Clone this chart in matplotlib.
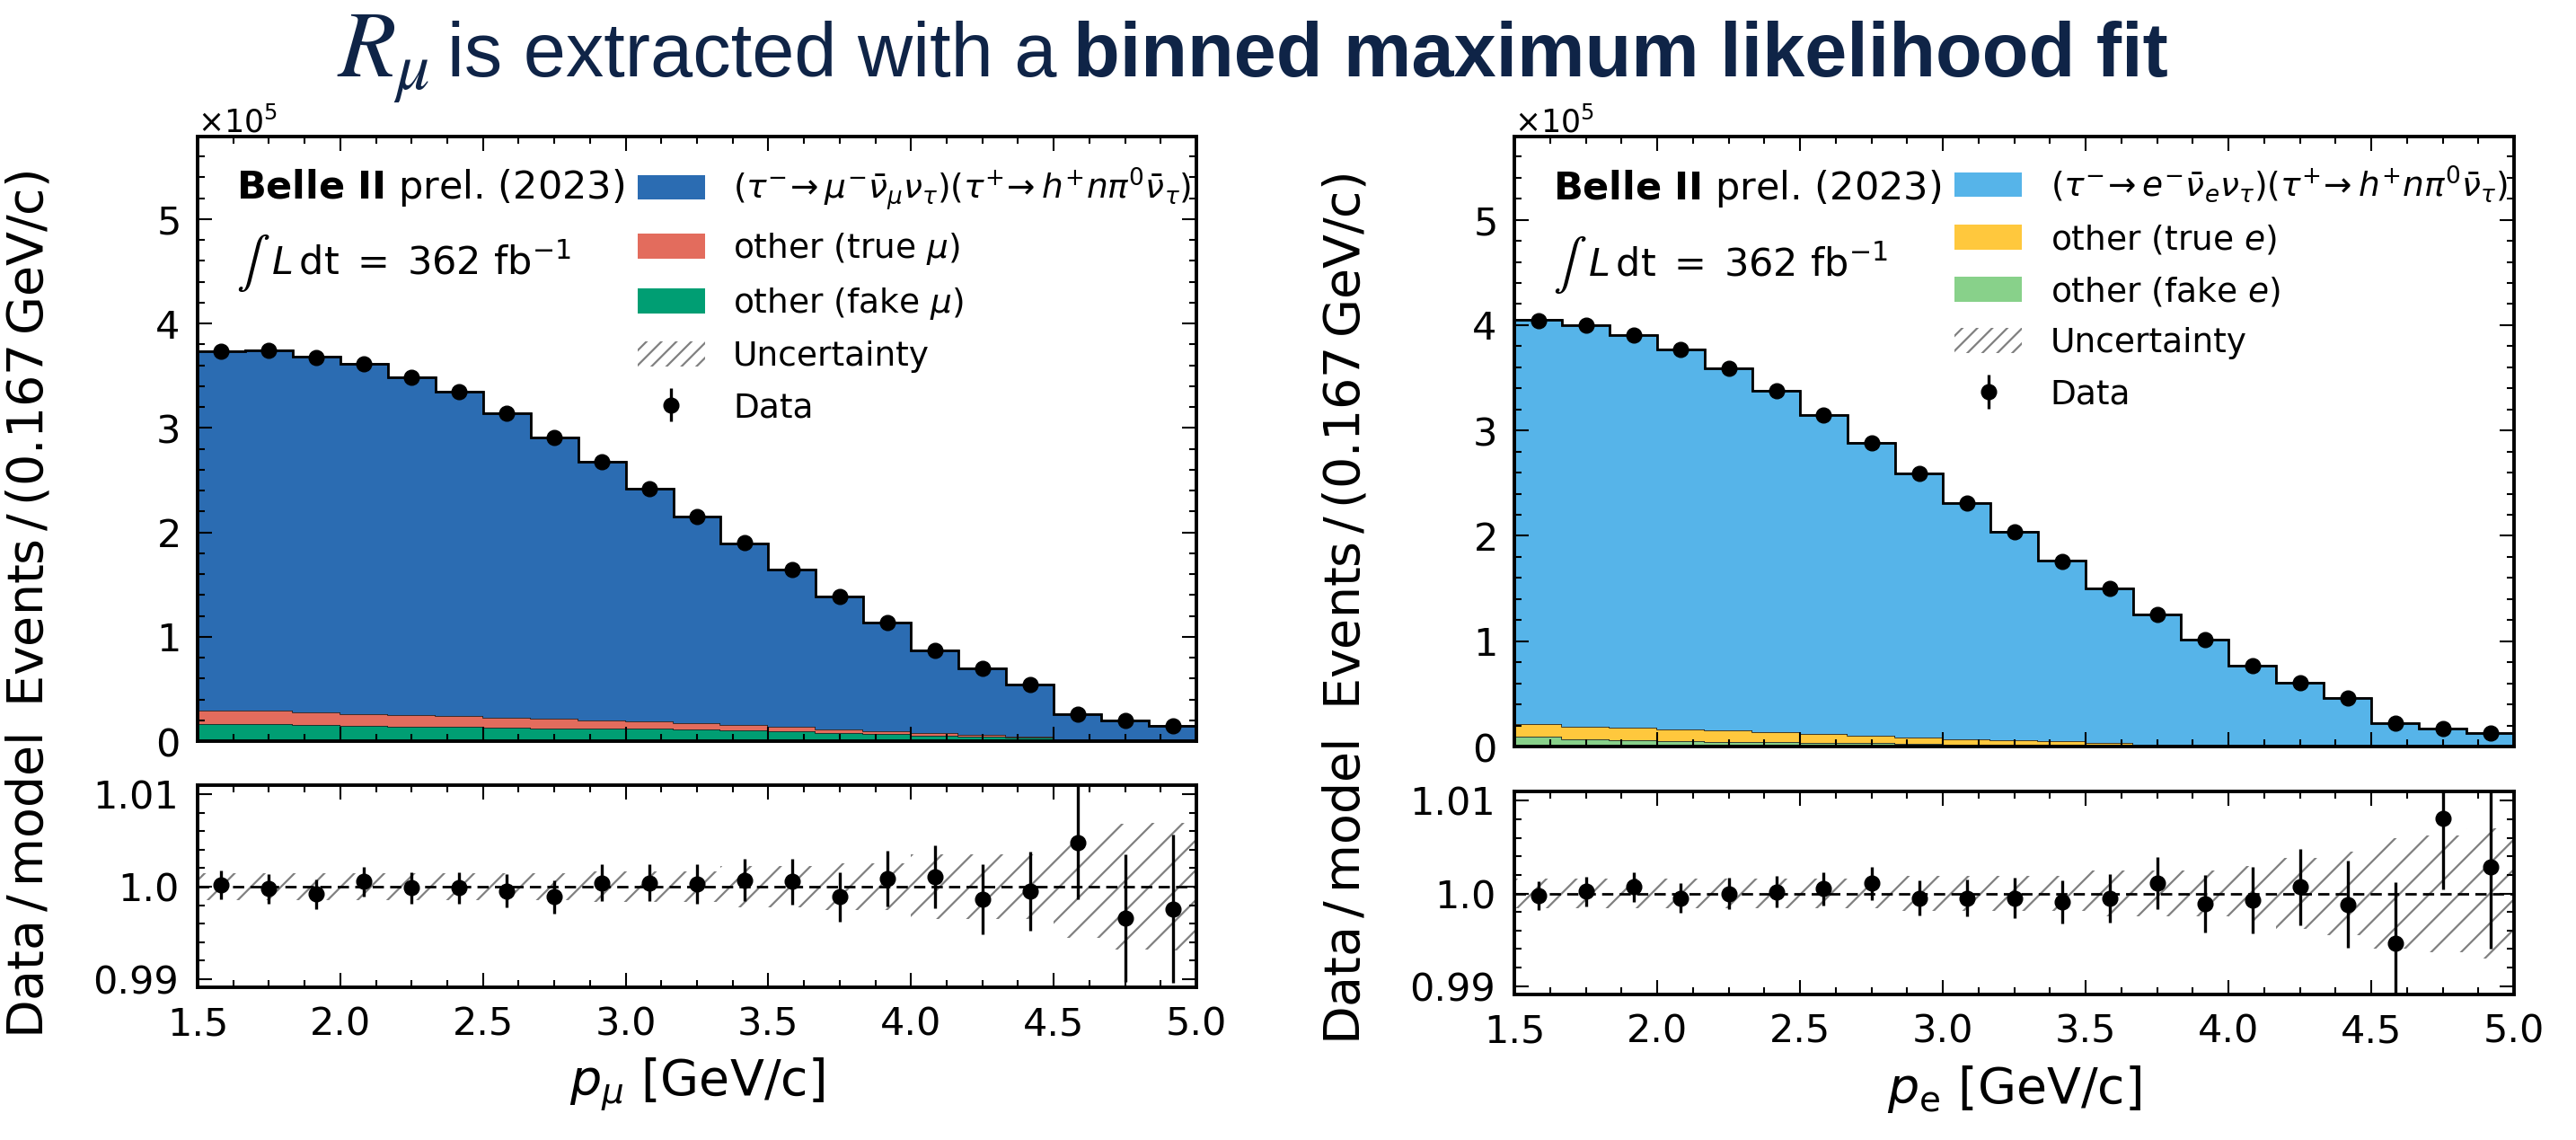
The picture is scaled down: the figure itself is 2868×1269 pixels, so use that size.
import numpy as np
import matplotlib
matplotlib.use("Agg")
import matplotlib.pyplot as plt
from matplotlib.ticker import MultipleLocator, AutoMinorLocator, ScalarFormatter, FixedLocator, FixedFormatter
from matplotlib.patches import Patch

# binning: 21 bins of 0.167 GeV/c between 1.5 and 5.0
edges = np.linspace(1.5, 5.0, 22)

# muon channel (events per bin)
mu_signal = [343900, 345400, 340300, 334900, 323600, 310900, 291500, 269700, 247200, 222500, 198000,
             173900, 150200, 126800, 104100, 79300, 63600, 49900, 25300, 19700, 14600]
mu_true = [13000, 12700, 12500, 11800, 11000, 10500, 9700, 8900, 8000, 7200, 6200,
           5400, 4500, 3600, 2800, 2100, 1500, 900, 300, 200, 200]
mu_fake = [16600, 16200, 15200, 14300, 13900, 13600, 12800, 12400, 12000, 11800, 10800,
           10400, 9300, 7900, 6700, 5400, 4500, 3400, 300, 300, 200]
mu_ratio = [1.0002, 0.9998, 0.9992, 1.00055, 0.9999, 0.9999, 0.99955, 0.9989, 1.0004, 1.0004, 1.0003,
            1.0007, 1.00055, 0.9989, 1.0009, 1.0011, 0.9986, 0.9995, 1.0048, 0.9966, 0.9976]
mu_ratio_err = [0.0016, 0.0016, 0.0016, 0.0016, 0.0017, 0.0017, 0.0018, 0.0018, 0.0020, 0.0020, 0.0021,
                0.0023, 0.0025, 0.0027, 0.0030, 0.0034, 0.0038, 0.0043, 0.0062, 0.0069, 0.0080]
mu_band = [0.0015, 0.0015, 0.0015, 0.0015, 0.0015, 0.0015, 0.0015, 0.0015, 0.0017, 0.0017, 0.0017,
           0.0022, 0.0022, 0.0025, 0.0025, 0.0035, 0.0035, 0.0035, 0.0055, 0.0068, 0.0069]

# electron channel (events per bin)
e_signal = [383500, 381000, 372600, 360400, 343800, 324100, 302900, 277800, 250700, 224000, 197500,
            171100, 146800, 123100, 100100, 75500, 59900, 45400, 22100, 17100, 12300]
e_true = [11800, 12500, 12000, 11500, 10500, 9500, 8500, 7000, 6000, 5000, 4200,
          3500, 2000, 1200, 900, 600, 200, 300, 200, 100, 100]
e_fake = [9400, 6500, 6000, 5000, 4500, 4000, 3500, 3000, 2500, 2000, 1800,
          1500, 1000, 800, 600, 400, 300, 200, 100, 100, 100]
e_ratio = [0.99974, 1.0002, 1.0007, 0.9995, 1.0, 1.00016, 1.0005, 1.0011, 0.9995, 0.9995, 0.9995,
           0.9991, 0.9995, 1.0011, 0.9989, 0.9993, 1.0007, 0.9988, 0.9946, 1.0081, 1.0029]
e_ratio_err = [0.00155, 0.0016, 0.0016, 0.0016, 0.0017, 0.0017, 0.0018, 0.0018, 0.0019, 0.0020, 0.0022,
               0.0023, 0.0026, 0.0028, 0.0031, 0.0036, 0.0041, 0.0047, 0.0066, 0.0077, 0.0089]
e_band = [0.0016, 0.0016, 0.0016, 0.0016, 0.0016, 0.0016, 0.0016, 0.0016, 0.0019, 0.0019, 0.0019,
          0.0019, 0.0025, 0.0025, 0.0025, 0.0030, 0.0038, 0.0045, 0.0060, 0.0063, 0.0070]

W, H = 2868, 1269
fig = plt.figure(figsize=(W / 100, H / 100), dpi=100)
plt.rcParams['hatch.linewidth'] = 1.6
plt.rcParams['hatch.color'] = 'gray'

TICK = 31
LABEL = 40
LEG = 27


def style(ax):
    ax.tick_params(which='both', direction='in', top=True, right=True, labelsize=TICK, pad=15)
    ax.tick_params(which='major', length=11.5, width=1.5)
    ax.tick_params(which='minor', length=6, width=1.5)
    for s in ax.spines.values():
        s.set_linewidth(2.8)
    ax.xaxis.set_major_locator(MultipleLocator(0.5))
    ax.xaxis.set_minor_locator(AutoMinorLocator(4))
    ax.set_xlim(1.5, 5.0)


def panel(top_rect, bot_rect, comps, colors, labels, ratio, rerr, band, xlabel, leg_y):
    ax = fig.add_axes(top_rect)
    rax = fig.add_axes(bot_rect)
    centers = 0.5 * (edges[1:] + edges[:-1])

    bottom = np.zeros(len(centers))
    for vals, col in zip(comps, colors):
        top = bottom + np.array(vals)
        ax.stairs(top, edges, baseline=bottom, fill=True, facecolor=col, edgecolor='none')
        ax.stairs(top, edges, baseline=None, color='#222222', linewidth=1.2)
        bottom = top
    total = bottom
    ax.stairs(total, edges, baseline=None, color='k', linewidth=2)

    data = np.array(ratio) * total
    data_err = np.array(rerr) * total
    eb = ax.errorbar(centers, data, yerr=data_err, fmt='o', color='k', ms=12,
                     elinewidth=2.4, capsize=0, zorder=5)

    style(ax)
    ax.set_ylim(0, 5.79e5)
    ax.yaxis.set_major_locator(MultipleLocator(1e5))
    ax.yaxis.set_minor_locator(AutoMinorLocator(5))
    fmt = ScalarFormatter(useMathText=True)
    fmt.set_powerlimits((0, 0))
    ax.yaxis.set_major_formatter(fmt)
    ax.yaxis.get_offset_text().set_fontsize(25)
    ax.tick_params(labelbottom=False)
    ax.set_ylabel(r'Events$\,/\,$(0.167$\,$GeV/c)', fontsize=LABEL)
    ax.yaxis.set_label_coords(-0.144, 0.5)

    ax.text(0.0387, 0.915, r'$\mathbf{Belle\ II}$ prel. (2023)', transform=ax.transAxes,
            fontsize=31, va='center', ha='left')
    ax.text(0.0387, 0.79, r'$\int$', transform=ax.transAxes, math_fontfamily='stix',
            fontsize=40, va='center', ha='left')
    ax.text(0.074, 0.79, r'$L\,\mathrm{dt}\;=\;362\ \mathrm{fb}^{-1}$', transform=ax.transAxes,
            fontsize=31, va='center', ha='left')

    handles = [Patch(facecolor=c, edgecolor='none') for c in colors[::-1]]
    handles.append(Patch(facecolor='none', edgecolor='gray', hatch='//', linewidth=0))
    handles.append(eb)
    ax.legend(handles, labels[::-1] + ['Uncertainty', 'Data'], loc='upper left',
              bbox_to_anchor=(0.4406, leg_y), frameon=False, fontsize=LEG, borderpad=0,
              borderaxespad=0, handlelength=2.0, handleheight=0.75, handletextpad=0.83,
              labelspacing=0.56)

    rax.stairs(1 + np.array(band), edges, baseline=1 - np.array(band), fill=True,
               facecolor='none', edgecolor='gray', hatch='/', linewidth=0)
    rax.axhline(1.0, color='k', linestyle='--', linewidth=2, dashes=(4.5, 2.5))
    rax.errorbar(centers, ratio, yerr=rerr, fmt='o', color='k', ms=12, elinewidth=2.4,
                 capsize=0, zorder=5)
    style(rax)
    rax.set_ylim(0.9891, 1.011)
    rax.yaxis.set_major_locator(FixedLocator([0.99, 1.0, 1.01]))
    rax.yaxis.set_major_formatter(FixedFormatter(['0.99', '1.0', '1.01']))
    rax.yaxis.set_minor_locator(MultipleLocator(0.002))
    rax.set_ylabel(r'Data$\,/\,$model', fontsize=LABEL)
    rax.yaxis.set_label_coords(-0.144, 0.5)
    rax.set_xlabel(xlabel, fontsize=LABEL, labelpad=10)


panel([220 / W, 1 - 825 / H, 1112 / W, 673 / H], [220 / W, 1 - 1099 / H, 1112 / W, 225 / H],
      [mu_fake, mu_true, mu_signal], ['#009e73', '#e36c5d', '#2b6cb2'],
      ['other (fake $\\mu$)', 'other (true $\\mu$)',
       r'$(\tau^{-}\!\rightarrow\mu^{-}\bar{\nu}_{\mu}\nu_{\tau})(\tau^{+}\!\rightarrow h^{+}n\pi^{0}\bar{\nu}_{\tau})$'],
      mu_ratio, mu_ratio_err, mu_band, r'$p_{\mu}$ [GeV/c]', 0.952)

panel([1686 / W, 1 - 831 / H, 1113 / W, 679 / H], [1686 / W, 1 - 1107 / H, 1113 / W, 226 / H],
      [e_fake, e_true, e_signal], ['#88d18a', '#ffc83d', '#56b4e9'],
      ['other (fake $e$)', 'other (true $e$)',
       r'$(\tau^{-}\!\rightarrow e^{-}\bar{\nu}_{e}\nu_{\tau})(\tau^{+}\!\rightarrow h^{+}n\pi^{0}\bar{\nu}_{\tau})$'],
      e_ratio, e_ratio_err, e_band, r'$p_{\mathrm{e}}$ [GeV/c]', 0.955)

# title built from three pieces laid side by side on one baseline
navy = '#0f2447'
renderer = fig.canvas.get_renderer()
x = 375 / W
ybase = 1 - 85 / H
pieces = [(r'$R_{\mu}$', dict(math_fontfamily='stix', fontsize=76)),
          ('is extracted with a', dict(family='Liberation Sans', fontsize=61)),
          ('binned maximum likelihood fit', dict(family='Liberation Sans', fontsize=61, weight='bold'))]
for txt, kw in pieces:
    t = fig.text(x, ybase, txt, color=navy, va='baseline', ha='left', **kw)
    bb = t.get_window_extent(renderer)
    x += bb.width / W + 19 / W

fig.savefig('out.png', dpi=100)
